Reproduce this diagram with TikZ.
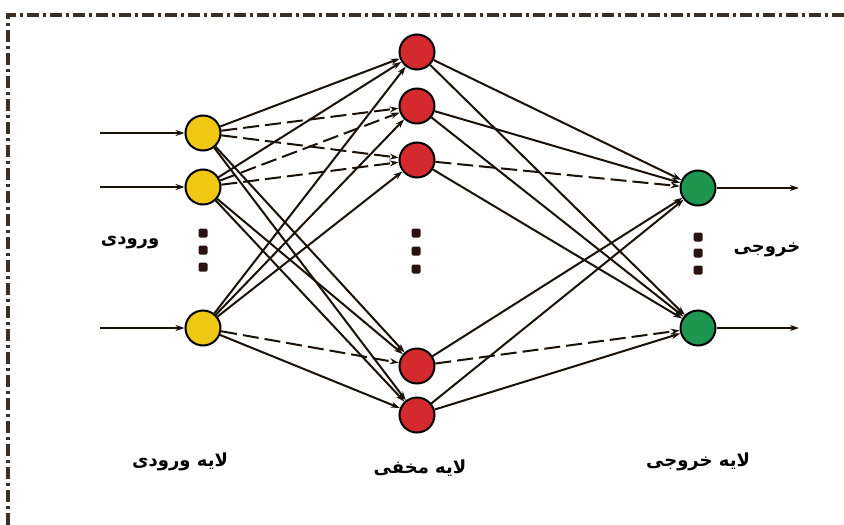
\documentclass[tikz,border=0pt]{standalone}
\usepackage{fontspec}
\newfontfamily\arabicfont[Script=Arabic]{DejaVu Sans}
\TeXXeTstate=1
\usetikzlibrary{arrows.meta}
\definecolor{inyellow}{HTML}{F0C814}
\definecolor{hidred}{HTML}{D42A2E}
\definecolor{outgreen}{HTML}{1E9650}
\definecolor{dotcol}{HTML}{2A1212}
\definecolor{framecol}{HTML}{3B3026}
\definecolor{linecol}{HTML}{1A1208}
\tikzset{
 neuron/.style={circle, draw=black, line width=2pt, minimum size=35pt, inner sep=0pt},
 inp/.style={neuron, fill=inyellow},
 hid/.style={neuron, fill=hidred},
 outn/.style={neuron, fill=outgreen},
 link/.style={draw=linecol, line width=2pt, -{Stealth[length=9pt,width=6pt]}},
 dlink/.style={link, dash pattern=on 16pt off 6pt},
 dotsq/.style={rectangle, rounded corners=1.5pt, fill=dotcol, minimum size=9pt, inner sep=0pt},
 lbl/.style={font=\arabicfont\bfseries\fontsize{18}{21}\selectfont, inner sep=0pt},
 framestyle/.style={line width=3.2pt, draw=framecol, dash pattern=on 12pt off 4pt on 3pt off 4pt}
}
\begin{document}
\begin{tikzpicture}[x=1pt,y=-1pt]
\useasboundingbox (0,0) rectangle (844,525);
\fill[white] (0,0) rectangle (844,525);
% frame
\coordinate (fl) at (8,525);
\coordinate (ftl) at (8,15);
\coordinate (ftr) at (844,15);
\draw[framestyle] (fl) -- (ftl) -- (ftr);
% input layer
\node[inp] (i1) at (203,133) {};
\node[inp] (i2) at (203,187) {};
\node[inp] (i3) at (203,328) {};
% hidden layer
\node[hid] (h1) at (417,52) {};
\node[hid] (h2) at (417,106) {};
\node[hid] (h3) at (417,160) {};
\node[hid] (h4) at (417,366) {};
\node[hid] (h5) at (417,415) {};
% output layer
\node[outn] (o1) at (698,188) {};
\node[outn] (o2) at (698,328) {};
% dots
\foreach \y [count=\k] in {233,250,267}{\node[dotsq] (di\k) at (203,\y) {};}
\foreach \y [count=\k] in {233,251,269}{\node[dotsq] (dh\k) at (416,\y) {};}
\foreach \y [count=\k] in {237,253,270}{\node[dotsq] (do\k) at (698,\y) {};}
% input arrows
\coordinate (s1) at (100,133);
\coordinate (s2) at (100,187);
\coordinate (s3) at (100,328);
\draw[link] (s1) -- (i1);
\draw[link] (s2) -- (i2);
\draw[link] (s3) -- (i3);
% output arrows
\coordinate (e1) at (799,188);
\coordinate (e2) at (799,328);
\draw[link] (o1) -- (e1);
\draw[link] (o2) -- (e2);
% input -> hidden
\foreach \a/\b in {1/1,1/4,1/5,2/1,2/4,2/5,3/1,3/2,3/3,3/5}{\draw[link] (i\a) -- (h\b);}
\foreach \a/\b in {1/2,1/3,2/2,2/3,3/4}{\draw[dlink] (i\a) -- (h\b);}
% hidden -> output
\foreach \a/\b in {1/1,1/2,2/1,2/2,3/2,4/1,5/1,5/2}{\draw[link] (h\a) -- (o\b);}
\foreach \a/\b in {3/1,4/2}{\draw[dlink] (h\a) -- (o\b);}
% labels
\node[lbl] (lin) at (130,243) {\beginR ورودی\endR};
\node[lbl] (lout) at (767,250) {\beginR خروجی\endR};
\node[lbl] (lil) at (180,462) {\beginR لایه ورودی\endR};
\node[lbl] (lhl) at (420,468) {\beginR لایه مخفی\endR};
\node[lbl] (lol) at (698,462) {\beginR لایه خروجی\endR};
\end{tikzpicture}
\end{document}
